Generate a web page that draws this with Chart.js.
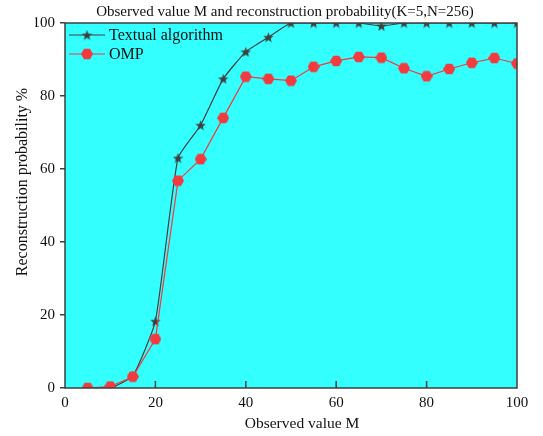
<!DOCTYPE html>
<html>
<head>
<meta charset="utf-8">
<script src="https://cdn.jsdelivr.net/npm/chart.js@4.4.1/dist/chart.umd.min.js"></script>
<style>
html,body{margin:0;padding:0;background:#fff;}
#wrap{width:543px;height:436px;}
</style>
</head>
<body>
<div id="wrap"><canvas id="c" width="543" height="436"></canvas></div>
<script>
const observedM = [5,10,15,20,25,30,35,40,45,50,55,60,65,70,75,80,85,90,95,100];
const textualAlgorithm = [0,0,3.3,18.3,63,72,84.7,92.1,96.1,100,100,100,100,99.2,100,100,100,100,100,100];
const ompValues = [0,0.4,3.1,13.4,56.8,62.7,74,85.3,84.7,84.2,88,89.6,90.7,90.5,87.6,85.4,87.4,89.1,90.4,88.9];
const xTicks = [0,20,40,60,80,100];
const yTicks = [0,20,40,60,80,100];
const seriesNames = ['Textual algorithm','OMP'];
const titleText = 'Observed value M and reconstruction probability(K=5,N=256)';
const xTitle = 'Observed value M';
const yTitle = 'Reconstruction probability %';

const DARK = '#3f3f3f';
const RED = '#f23a3f';
const BG = '#33ffff';
const FONT = "'Liberation Serif','Times New Roman',serif";

function makeStar(size, color){
  const c = document.createElement('canvas');
  c.width = size; c.height = size;
  const g = c.getContext('2d');
  const cx = size/2, cy = size/2 + size*0.05, R = size/2, r = R*0.42;
  g.beginPath();
  for (let i=0;i<10;i++){
    const rad = i%2===0 ? R : r;
    const a = -Math.PI/2 + i*Math.PI/5;
    const x = cx + rad*Math.cos(a), y = cy + rad*Math.sin(a);
    if(i===0) g.moveTo(x,y); else g.lineTo(x,y);
  }
  g.closePath(); g.fillStyle = color; g.fill();
  return c;
}
function makeHex(size, color){
  const c = document.createElement('canvas');
  c.width = size; c.height = size;
  const g = c.getContext('2d');
  const cx = size/2, cy = size/2, R = size/2;
  g.beginPath();
  for (let i=0;i<6;i++){
    const a = i*Math.PI/3;
    const x = cx + R*Math.cos(a), y = cy + R*Math.sin(a);
    if(i===0) g.moveTo(x,y); else g.lineTo(x,y);
  }
  g.closePath(); g.fillStyle = color; g.fill();
  return c;
}
const starImg = makeStar(11, DARK);
const hexImg = makeHex(12, RED);

const bgPlugin = {
  id:'bgPlugin',
  beforeDraw(chart){
    const {ctx, chartArea:a} = chart;
    ctx.save(); ctx.fillStyle = BG;
    ctx.fillRect(a.left, a.top, a.right-a.left, a.bottom-a.top);
    ctx.restore();
  },
  afterDraw(chart){
    const {ctx, chartArea:a, scales} = chart;
    ctx.save();
    ctx.strokeStyle = DARK; ctx.lineWidth = 1.5;
    ctx.strokeRect(a.left, a.top, a.right-a.left, a.bottom-a.top);
    // inward x ticks
    xTicks.forEach(v=>{
      if(v===0||v===100) return;
      const x = scales.x.getPixelForValue(v);
      ctx.beginPath(); ctx.moveTo(x, a.bottom); ctx.lineTo(x, a.bottom-7); ctx.stroke();
    });
    // legend
    const items = [
      {label:seriesNames[0], color:DARK, img:starImg, y:a.top+12},
      {label:seriesNames[1], color:RED, img:hexImg, y:a.top+31}
    ];
    ctx.font = '16px ' + FONT;
    ctx.textBaseline = 'middle';
    ctx.textAlign = 'left';
    items.forEach(it=>{
      ctx.strokeStyle = it.color; ctx.lineWidth = 1.2;
      ctx.beginPath(); ctx.moveTo(a.left+4, it.y); ctx.lineTo(a.left+40, it.y); ctx.stroke();
      ctx.drawImage(it.img, a.left+22-it.img.width/2, it.y-it.img.height/2);
      ctx.fillStyle = '#111';
      ctx.fillText(it.label, a.left+44, it.y+1);
    });
    // titles
    ctx.fillStyle = '#111';
    ctx.textAlign = 'center';
    ctx.font = '15px ' + FONT;
    ctx.fillText(titleText, 285, 12);
    ctx.font = '15.5px ' + FONT;
    ctx.fillText(xTitle, 302, 424);
    ctx.save();
    ctx.translate(23, 182);
    ctx.rotate(-Math.PI/2);
    ctx.font = '16px ' + FONT;
    ctx.fillText(yTitle, 0, 0);
    ctx.restore();
    ctx.restore();
  }
};

new Chart(document.getElementById('c'), {
  type:'line',
  data:{
    datasets:[
      {label:seriesNames[0], data:observedM.map((m,i)=>({x:m,y:textualAlgorithm[i]})),
       borderColor:DARK, backgroundColor:DARK, borderWidth:1.2, pointStyle:starImg,
       tension:0.15, clip:0, order:2},
      {label:seriesNames[1], data:observedM.map((m,i)=>({x:m,y:ompValues[i]})),
       borderColor:RED, backgroundColor:RED, borderWidth:1.2, pointStyle:hexImg,
       tension:0, clip:0, order:1}
    ]
  },
  options:{
    responsive:false, animation:false, devicePixelRatio:1,
    layout:{padding:{left:35,right:26,top:23,bottom:23}},
    plugins:{
      legend:{display:false}, tooltip:{enabled:false}, title:{display:false}
    },
    scales:{
      x:{type:'linear', min:0, max:100,
        afterBuildTicks(s){ s.ticks = xTicks.map(v=>({value:v})); },
        afterFit(s){ s.height = 25; },
        grid:{display:false, drawOnChartArea:false, drawTicks:false},
        border:{display:false},
        ticks:{color:'#111', font:{family:FONT,size:15}, padding:6, maxRotation:0}
      },
      y:{type:'linear', min:0, max:100,
        afterBuildTicks(s){ s.ticks = yTicks.map(v=>({value:v})); },
        afterFit(s){ s.width = 30; },
        grid:{display:true, drawOnChartArea:false, drawTicks:true, tickLength:5, color:DARK, lineWidth:1.5},
        border:{display:false},
        ticks:{color:'#111', font:{family:FONT,size:15}, padding:5}
      }
    }
  },
  plugins:[bgPlugin]
});
</script>
</body>
</html>
